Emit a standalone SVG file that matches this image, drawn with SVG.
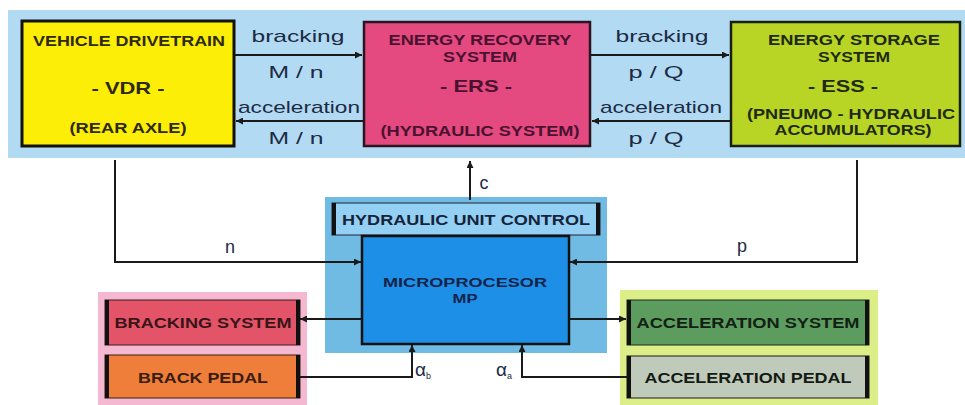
<svg xmlns="http://www.w3.org/2000/svg" width="965" height="405" viewBox="0 0 965 405">
<defs>
<style>
.box{font-family:"Liberation Sans",Arial,sans-serif;font-weight:bold;text-anchor:middle}
.lbl{font-family:"Liberation Sans",Arial,sans-serif;text-anchor:middle;fill:#1c2b44}
.wire{fill:none;stroke:#1a1a1a;stroke-width:2}
.bar{stroke:#111;stroke-width:4}
</style>
<marker id="ah" viewBox="0 0 10 10" refX="10" refY="5" markerWidth="9" markerHeight="7" markerUnits="userSpaceOnUse" orient="auto">
<path d="M0,0 L10,5 L0,10 z" fill="#1a1a1a"/>
</marker>
</defs>
<rect width="965" height="405" fill="#ffffff"/>

<g id="top-band">
<rect x="8" y="10" width="957" height="148" fill="#b2daf3"/>
</g>

<g id="hydraulic-unit-control">
<rect x="325" y="197" width="282" height="156" fill="#6fbbe4"/>
<rect x="332" y="203" width="268" height="32" fill="#93d0f3" stroke="#223" stroke-width="1"/>
<line class="bar" x1="334" y1="203" x2="334" y2="235"/>
<line class="bar" x1="598" y1="203" x2="598" y2="235"/>
<text class="box" x="466" y="225" font-size="14" fill="#16243a" textLength="248" lengthAdjust="spacingAndGlyphs">HYDRAULIC UNIT CONTROL</text>
</g>

<g id="braking-panel">
<rect x="98" y="292" width="209" height="113" fill="#f4b9d0"/>
</g>
<g id="acceleration-panel">
<rect x="620" y="290" width="258" height="115" fill="#dcee88"/>
</g>

<g id="vdr">
<rect x="22" y="21" width="212" height="125" fill="#fdee08" stroke="#111" stroke-width="3"/>
<text class="box" x="129" y="46" font-size="14" fill="#2e2a10" textLength="192" lengthAdjust="spacingAndGlyphs">VEHICLE DRIVETRAIN</text>
<text class="box" x="128" y="94" font-size="17" fill="#2e2a10" textLength="73" lengthAdjust="spacingAndGlyphs">- VDR -</text>
<text class="box" x="128" y="133" font-size="14" fill="#2e2a10" textLength="117" lengthAdjust="spacingAndGlyphs">(REAR AXLE)</text>
</g>

<g id="ers">
<rect x="364" y="22" width="226" height="124" fill="#e4497f" stroke="#2a1420" stroke-width="2.5"/>
<text class="box" x="480" y="45" font-size="14" fill="#4a1230" textLength="183" lengthAdjust="spacingAndGlyphs">ENERGY RECOVERY</text>
<text class="box" x="480" y="62" font-size="14" fill="#4a1230" textLength="74" lengthAdjust="spacingAndGlyphs">SYSTEM</text>
<text class="box" x="476" y="92" font-size="17" fill="#4a1230" textLength="72" lengthAdjust="spacingAndGlyphs">- ERS -</text>
<text class="box" x="480" y="136" font-size="14" fill="#4a1230" textLength="199" lengthAdjust="spacingAndGlyphs">(HYDRAULIC SYSTEM)</text>
</g>

<g id="ess">
<rect x="731" y="22" width="229" height="124" fill="#b8d424" stroke="#1a2010" stroke-width="2.5"/>
<text class="box" x="854" y="45" font-size="14" fill="#1e2a12" textLength="172" lengthAdjust="spacingAndGlyphs">ENERGY STORAGE</text>
<text class="box" x="854" y="62" font-size="14" fill="#1e2a12" textLength="72" lengthAdjust="spacingAndGlyphs">SYSTEM</text>
<text class="box" x="843" y="92" font-size="17" fill="#1e2a12" textLength="70" lengthAdjust="spacingAndGlyphs">- ESS -</text>
<text class="box" x="851" y="119" font-size="14" fill="#1e2a12" textLength="208" lengthAdjust="spacingAndGlyphs">(PNEUMO - HYDRAULIC</text>
<text class="box" x="853" y="135" font-size="14" fill="#1e2a12" textLength="157" lengthAdjust="spacingAndGlyphs">ACCUMULATORS)</text>
</g>

<g id="mp">
<rect x="362" y="236" width="207" height="108" fill="#1e8fe6" stroke="#111" stroke-width="2.5"/>
<text class="box" x="465" y="287" font-size="13" fill="#14234a" textLength="164" lengthAdjust="spacingAndGlyphs">MICROPROCESOR</text>
<text class="box" x="465" y="303" font-size="13" fill="#14234a" textLength="25" lengthAdjust="spacingAndGlyphs">MP</text>
</g>

<g id="bracking-system">
<rect x="105" y="300" width="195" height="45" fill="#e35469" stroke="#3a1a20" stroke-width="1"/>
<line class="bar" x1="107" y1="300" x2="107" y2="345"/>
<line class="bar" x1="298" y1="300" x2="298" y2="345"/>
<text class="box" x="203" y="328" font-size="14" fill="#3a1518" textLength="177" lengthAdjust="spacingAndGlyphs">BRACKING SYSTEM</text>
</g>

<g id="brack-pedal">
<rect x="105" y="355" width="195" height="43" fill="#ef7e3b" stroke="#3a2010" stroke-width="1"/>
<line class="bar" x1="107" y1="355" x2="107" y2="398"/>
<line class="bar" x1="298" y1="355" x2="298" y2="398"/>
<text class="box" x="203" y="383" font-size="14" fill="#3a1d10" textLength="130" lengthAdjust="spacingAndGlyphs">BRACK PEDAL</text>
</g>

<g id="acceleration-system">
<rect x="627" y="300" width="242" height="45" fill="#5c9c5f" stroke="#1a2a1a" stroke-width="1"/>
<line class="bar" x1="629" y1="300" x2="629" y2="345"/>
<line class="bar" x1="867" y1="300" x2="867" y2="345"/>
<text class="box" x="748" y="328" font-size="14" fill="#132013" textLength="223" lengthAdjust="spacingAndGlyphs">ACCELERATION SYSTEM</text>
</g>

<g id="acceleration-pedal">
<rect x="627" y="356" width="242" height="42" fill="#bfcabb" stroke="#1a1a1a" stroke-width="1"/>
<line class="bar" x1="629" y1="356" x2="629" y2="398"/>
<line class="bar" x1="867" y1="356" x2="867" y2="398"/>
<text class="box" x="748" y="383" font-size="14" fill="#141a14" textLength="207" lengthAdjust="spacingAndGlyphs">ACCELERATION PEDAL</text>
</g>

<g id="connectors">
<path class="wire" d="M235,55 H362" marker-end="url(#ah)"/>
<path class="wire" d="M363,121 H236" marker-end="url(#ah)"/>
<path class="wire" d="M591,55 H729" marker-end="url(#ah)"/>
<path class="wire" d="M731,121 H592" marker-end="url(#ah)"/>
<path class="wire" d="M115,160 V262 H361" marker-end="url(#ah)"/>
<path class="wire" d="M857,160 V262 H570" marker-end="url(#ah)"/>
<path class="wire" d="M470,200 V161" marker-end="url(#ah)"/>
<path class="wire" d="M362,319 H300" marker-end="url(#ah)"/>
<path class="wire" d="M569,319 H626" marker-end="url(#ah)"/>
<path class="wire" d="M300,377 H412 V345" marker-end="url(#ah)"/>
<path class="wire" d="M627,377 H522 V345" marker-end="url(#ah)"/>

<text class="lbl" x="298" y="42" font-size="17" textLength="93" lengthAdjust="spacingAndGlyphs">bracking</text>
<text class="lbl" x="296" y="78" font-size="17" textLength="55" lengthAdjust="spacingAndGlyphs">M / n</text>
<text class="lbl" x="299" y="113" font-size="17" textLength="122" lengthAdjust="spacingAndGlyphs">acceleration</text>
<text class="lbl" x="296" y="144" font-size="17" textLength="55" lengthAdjust="spacingAndGlyphs">M / n</text>
<text class="lbl" x="662" y="42" font-size="17" textLength="93" lengthAdjust="spacingAndGlyphs">bracking</text>
<text class="lbl" x="656" y="78" font-size="17" textLength="55" lengthAdjust="spacingAndGlyphs">p / Q</text>
<text class="lbl" x="661" y="113" font-size="17" textLength="122" lengthAdjust="spacingAndGlyphs">acceleration</text>
<text class="lbl" x="656" y="144" font-size="17" textLength="55" lengthAdjust="spacingAndGlyphs">p / Q</text>
<text class="lbl" x="484" y="189" font-size="18">c</text>
<text class="lbl" x="230" y="253" font-size="18">n</text>
<text class="lbl" x="742" y="252" font-size="18">p</text>
<text class="lbl" x="423" y="376" font-size="19">α<tspan font-size="9" dy="3">b</tspan></text>
<text class="lbl" x="504" y="376" font-size="19">α<tspan font-size="9" dy="3">a</tspan></text>
</g>
</svg>
